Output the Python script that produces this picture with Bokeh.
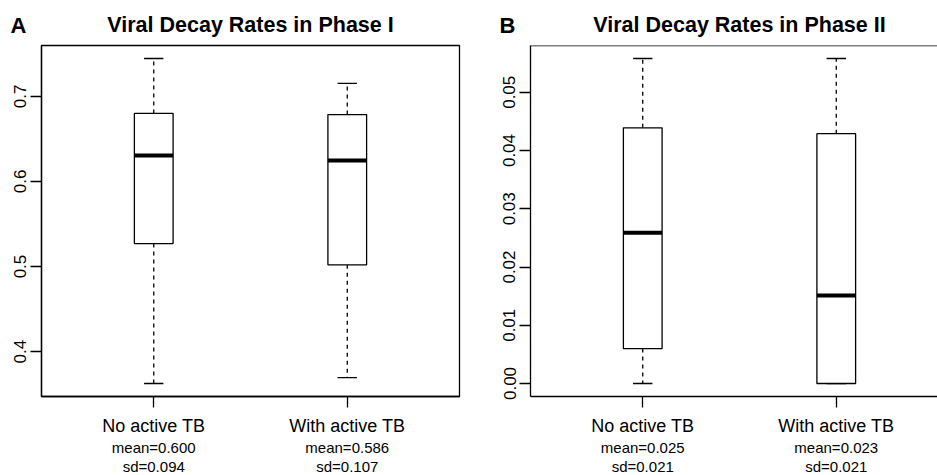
from bokeh.plotting import figure
from bokeh.models import FixedTicker, Range1d, ColumnDataSource, Span
from bokeh.layouts import row, column
from bokeh.embed import file_html
from bokeh.resources import INLINE
from bokeh.core.properties import value

# ---------------- data ----------------
groups = ["No active TB", "With active TB"]
positions = [1, 2]
panel_letters = ["A", "B"]
panel_titles = ["Viral Decay Rates in Phase I", "Viral Decay Rates in Phase II"]

# Phase I decay rates (box-plot summaries)
p1_lower = [0.3625, 0.3695]
p1_q1 = [0.527, 0.502]
p1_median = [0.6305, 0.6246]
p1_q3 = [0.680, 0.6786]
p1_upper = [0.7445, 0.7152]
p1_mean = ["0.600", "0.586"]
p1_sd = ["0.094", "0.107"]
p1_ticks = [0.4, 0.5, 0.6, 0.7]
p1_tick_labels = ["0.4", "0.5", "0.6", "0.7"]

# Phase II decay rates (box-plot summaries)
p2_lower = [0.0000, 0.0000]
p2_q1 = [0.0060, 0.0000]
p2_median = [0.0259, 0.0151]
p2_q3 = [0.0439, 0.0429]
p2_upper = [0.0558, 0.0558]
p2_mean = ["0.025", "0.023"]
p2_sd = ["0.021", "0.021"]
p2_ticks = [0.00, 0.01, 0.02, 0.03, 0.04, 0.05]
p2_tick_labels = ["0.00", "0.01", "0.02", "0.03", "0.04", "0.05"]

FONT = "Liberation Sans"
LW = 1.3
BOX_W = 0.2
CAP_W = 0.1
X0 = 0.42
PX_PER_UNIT = 418 / 2.16

PAGE_H = 475
HEADER_H = 43
TOP_B = 2
FRAME_H = 351
BOTTOM_B = 42
PANEL_H = TOP_B + FRAME_H + BOTTOM_B
FOOTER_H = PAGE_H - HEADER_H - PANEL_H

# panel geometry: (figure width, left border, right border)
geom = [(470, 41, 11), (467, 60, 0)]
total_w = sum(g[0] for g in geom)
offsets = [0, geom[0][0]]
frame_left = [o + g[1] for o, g in zip(offsets, geom)]


def make_panel(lower, q1, med, q3, upper, ticks, tick_labels,
               width, left_border, right_border, full_frame):
    lo, hi = min(lower), max(upper)
    pad = 0.04 * (hi - lo)
    yr = Range1d(lo - pad, hi + pad)
    frame_w = width - left_border - right_border
    xr = Range1d(X0, X0 + frame_w / PX_PER_UNIT)

    p = figure(x_range=xr, y_range=yr, width=width, height=PANEL_H,
               min_border_left=left_border, min_border_right=right_border,
               min_border_top=TOP_B, min_border_bottom=BOTTOM_B,
               output_backend="svg", toolbar_location=None,
               background_fill_color="white", border_fill_color="white")
    p.xgrid.grid_line_color = None
    p.ygrid.grid_line_color = None
    if full_frame:
        p.outline_line_color = "black"
        p.outline_line_width = LW
    else:
        p.outline_line_color = None
        p.add_layout(Span(location=yr.end, dimension="width", line_color="black",
                          line_width=LW))

    ya = p.left[0]
    ya.ticker = FixedTicker(ticks=ticks)
    ya.major_label_overrides = {t: s for t, s in zip(ticks, tick_labels)}
    ya.major_label_orientation = "vertical"
    ya.major_label_text_font = FONT
    ya.major_label_text_font_size = "17px"
    ya.major_label_text_color = "black"
    ya.major_label_standoff = 4
    ya.major_tick_out = 11
    ya.major_tick_in = 0
    ya.minor_tick_line_color = None
    ya.axis_line_width = LW
    ya.major_tick_line_width = LW
    ya.axis_line_color = "black"
    ya.major_tick_line_color = "black"

    xa = p.below[0]
    xa.ticker = FixedTicker(ticks=positions)
    xa.major_label_overrides = {pos: g for pos, g in zip(positions, groups)}
    xa.major_label_text_font = FONT
    xa.major_label_text_font_size = "18px"
    xa.major_label_text_color = "black"
    xa.major_label_standoff = 8
    xa.major_tick_out = 11
    xa.major_tick_in = 0
    xa.minor_tick_line_color = None
    xa.axis_line_width = LW
    xa.major_tick_line_width = LW
    xa.axis_line_color = "black"
    xa.major_tick_line_color = "black"

    src = ColumnDataSource(dict(
        pos=positions,
        left=[x - BOX_W / 2 for x in positions],
        right=[x + BOX_W / 2 for x in positions],
        cl=[x - CAP_W / 2 for x in positions],
        cr=[x + CAP_W / 2 for x in positions],
        lower=lower, q1=q1, med=med, q3=q3, upper=upper,
    ))
    p.segment(x0="pos", y0="q3", x1="pos", y1="upper", source=src,
              line_color="black", line_width=LW, line_dash="4 4")
    p.segment(x0="pos", y0="q1", x1="pos", y1="lower", source=src,
              line_color="black", line_width=LW, line_dash="4 4")
    p.segment(x0="cl", y0="upper", x1="cr", y1="upper", source=src,
              line_color="black", line_width=LW)
    p.segment(x0="cl", y0="lower", x1="cr", y1="lower", source=src,
              line_color="black", line_width=LW)
    p.quad(left="left", right="right", bottom="q1", top="q3", source=src,
           fill_color="white", line_color="black", line_width=LW)
    p.segment(x0="left", y0="med", x1="right", y1="med", source=src,
              line_color="black", line_width=4)
    return p


pA = make_panel(p1_lower, p1_q1, p1_median, p1_q3, p1_upper,
                p1_ticks, p1_tick_labels, *geom[0], full_frame=True)
pB = make_panel(p2_lower, p2_q1, p2_median, p2_q3, p2_upper,
                p2_ticks, p2_tick_labels, *geom[1], full_frame=False)


def strip(height):
    s = figure(width=total_w, height=height, x_range=Range1d(0, total_w),
               y_range=Range1d(0, height), min_border=0,
               output_backend="svg", toolbar_location=None,
               background_fill_color="white", border_fill_color="white")
    s.axis.visible = False
    s.grid.visible = False
    s.outline_line_color = None
    return s


def mid(size, baseline_from_top, strip_top, strip_h):
    # vertical centre of a text line whose baseline sits at the given page row
    return strip_h - (baseline_from_top - strip_top) + 0.35 * size


# ---------------- header: panel letters and titles ----------------
header = strip(HEADER_H)
title_x = [frame_left[0] + 209, frame_left[1] + 209]
header.text(x=title_x, y=[mid(21.5, 32, 0, HEADER_H)] * 2, text=panel_titles,
            text_align="center", text_baseline="middle", text_font=value(FONT),
            text_font_size="21.5px", text_font_style="bold", text_color="black")
header.text(x=[fl - 31 for fl in frame_left], y=[mid(22, 33, 0, HEADER_H)] * 2,
            text=panel_letters, text_align="left", text_baseline="middle",
            text_font=value(FONT), text_font_size="22px", text_font_style="bold",
            text_color="black")

# ---------------- footer: mean / sd rows under each group ----------------
footer = strip(FOOTER_H)
foot_top = HEADER_H + PANEL_H
fx, fmean, fsd = [], [], []
for fl, means, sds in zip(frame_left, [p1_mean, p2_mean], [p1_sd, p2_sd]):
    for pos, m, s in zip(positions, means, sds):
        fx.append(fl + (pos - X0) * PX_PER_UNIT)
        fmean.append("mean=" + m)
        fsd.append("sd=" + s)
footer.text(x=fx, y=[mid(15, 452, foot_top, FOOTER_H)] * len(fx), text=fmean,
            text_align="center", text_baseline="middle", text_font=value(FONT),
            text_font_size="15px", text_color="black")
footer.text(x=fx, y=[mid(15, 471, foot_top, FOOTER_H)] * len(fx), text=fsd,
            text_align="center", text_baseline="middle", text_font=value(FONT),
            text_font_size="15px", text_color="black")

layout = column(header, row(pA, pB), footer)
open("out.html", "w").write(file_html(layout, INLINE))
